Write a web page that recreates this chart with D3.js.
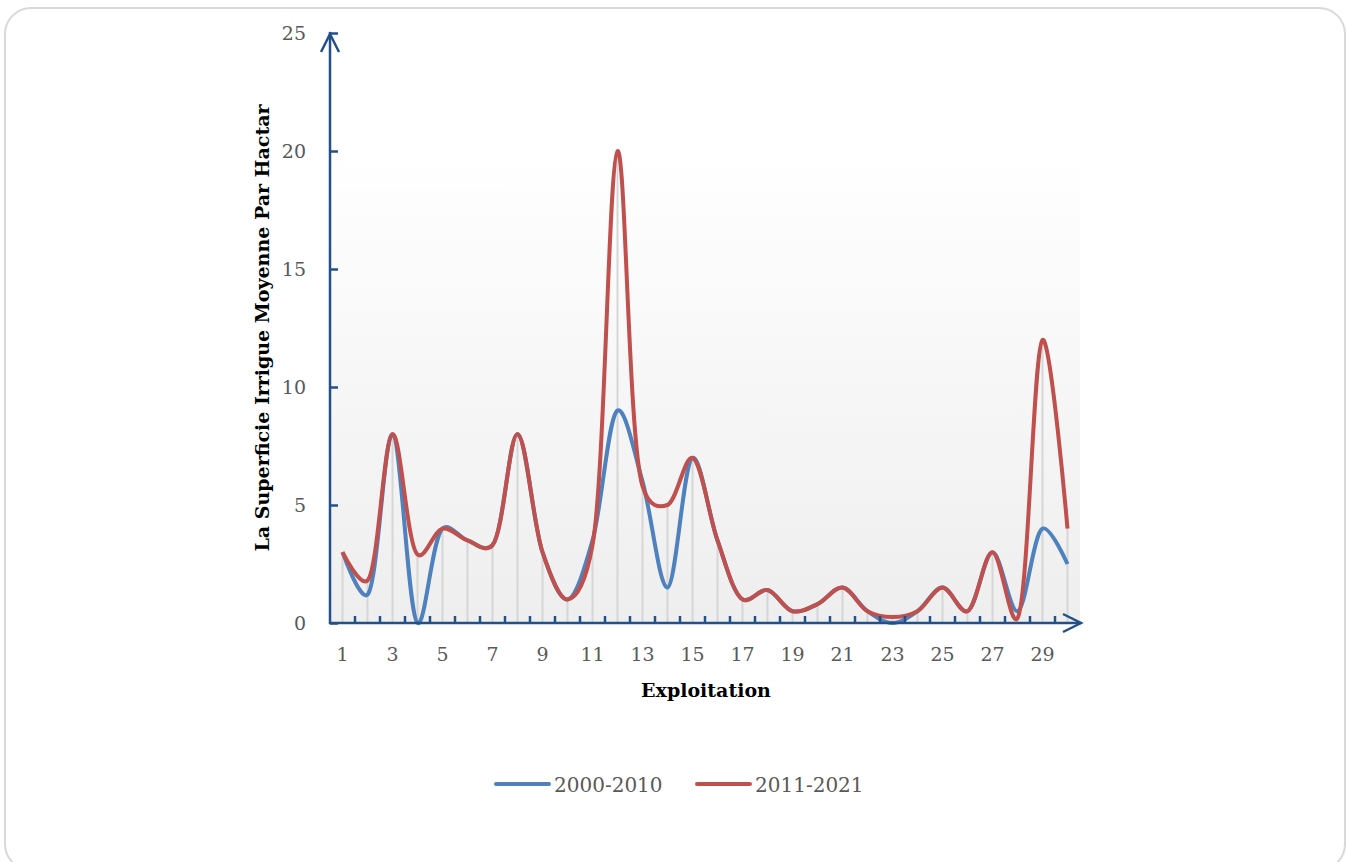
<!DOCTYPE html>
<html>
<head>
<meta charset="utf-8">
<script src="https://cdn.jsdelivr.net/npm/d3@7"></script>
<style>
  body { margin: 0; background: #fff; }
  text { font-family: "DejaVu Serif", serif; }
</style>
</head>
<body>
<svg id="chart" width="1346" height="862"></svg>
<script>
// exploitations 1..30
const exploitations = d3.range(1, 31);
const serie2000 = [3, 1.2, 8, 0, 4, 3.5, 3.3, 8, 3, 1, 3.5, 9, 6, 1.5, 7, 3.5, 1, 1.4, 0.5, 0.8, 1.5, 0.5, 0, 0.5, 1.5, 0.5, 3, 0.5, 4, 2.5];
const serie2011 = [3, 1.8, 8, 2.9, 4, 3.5, 3.3, 8, 3, 1, 3.3, 20, 5.8, 5, 7, 3.5, 1, 1.4, 0.5, 0.8, 1.5, 0.5, 0.25, 0.5, 1.5, 0.5, 3, 0.2, 12, 4];
const yTicks = [0, 5, 10, 15, 20, 25];
const seriesNames = ["2000-2010", "2011-2021"];
const colors = ["#4f81bd", "#c0504d"];

const svg = d3.select("#chart");
const axisColor = "#24508a";

// cadre arrondi
svg.append("rect")
  .attr("x", 5).attr("y", 8)
  .attr("width", 1340).attr("height", 862)
  .attr("rx", 26)
  .attr("fill", "#fff")
  .attr("stroke", "#d9d9d9")
  .attr("stroke-width", 2);

const x = d3.scaleBand().domain(exploitations).range([330, 1080]);
const y = d3.scaleLinear().domain([0, 25]).range([623, 33]);
const cx = d => x(d) + x.bandwidth() / 2;

// fond dégradé
const grad = svg.append("defs").append("linearGradient")
  .attr("id", "bg").attr("x1", 0).attr("y1", 0).attr("x2", 0).attr("y2", 1);
grad.append("stop").attr("offset", "0%").attr("stop-color", "#ffffff");
grad.append("stop").attr("offset", "20%").attr("stop-color", "#ffffff");
grad.append("stop").attr("offset", "100%").attr("stop-color", "#eeeeee");

svg.append("rect")
  .attr("x", 330).attr("y", y(25))
  .attr("width", 750).attr("height", y(0) - y(25))
  .attr("fill", "url(#bg)");

// lignes de projection
svg.append("g")
  .selectAll("line")
  .data(exploitations)
  .join("line")
  .attr("x1", d => cx(d)).attr("x2", d => cx(d))
  .attr("y1", (d, i) => y(Math.max(serie2000[i], serie2011[i])))
  .attr("y2", y(0))
  .attr("stroke", "#d6d6d6")
  .attr("stroke-width", 2);

// courbes lissées
const line = d3.line()
  .x(d => cx(d.e))
  .y(d => y(d.v))
  .curve(d3.curveCatmullRom.alpha(0.3));

[serie2000, serie2011].forEach((s, k) => {
  svg.append("path")
    .datum(exploitations.map((e, i) => ({ e, v: s[i] })))
    .attr("d", line)
    .attr("fill", "none")
    .attr("stroke", colors[k])
    .attr("stroke-width", 4)
    .attr("stroke-linejoin", "round");
});

// axe Y
const yAxis = svg.append("g").attr("transform", "translate(330,0)")
  .call(d3.axisRight(y).tickValues(yTicks).tickSize(8).tickFormat(""));
yAxis.select(".domain").remove();
yAxis.selectAll("line").attr("stroke", axisColor).attr("stroke-width", 2.5);

svg.append("line")
  .attr("x1", 330).attr("x2", 330).attr("y1", y(0) + 1).attr("y2", y(25) - 1)
  .attr("stroke", axisColor).attr("stroke-width", 2.5);
svg.append("path")
  .attr("d", `M321,${y(25) + 19}L330,${y(25) + 1}L339,${y(25) + 19}`)
  .attr("fill", "none").attr("stroke", axisColor).attr("stroke-width", 2.5);

svg.append("g")
  .selectAll("text")
  .data(yTicks)
  .join("text")
  .attr("x", 306).attr("y", d => y(d) + 7)
  .attr("text-anchor", "end")
  .attr("font-size", 19)
  .attr("fill", "#595959")
  .text(d => d);

// axe X
svg.append("line")
  .attr("x1", 329).attr("x2", 1081).attr("y1", y(0)).attr("y2", y(0))
  .attr("stroke", axisColor).attr("stroke-width", 2.5);
svg.append("path")
  .attr("d", `M1063,${y(0) - 9}L1081,${y(0)}L1063,${y(0) + 9}`)
  .attr("fill", "none").attr("stroke", axisColor).attr("stroke-width", 2.5);

svg.append("g")
  .selectAll("line")
  .data(exploitations.slice(1))
  .join("line")
  .attr("x1", d => x(d)).attr("x2", d => x(d))
  .attr("y1", y(0)).attr("y2", y(0) - 7)
  .attr("stroke", axisColor).attr("stroke-width", 2.5);

svg.append("g")
  .selectAll("text")
  .data(exploitations.filter(d => d % 2 === 1))
  .join("text")
  .attr("x", d => cx(d)).attr("y", 661)
  .attr("text-anchor", "middle")
  .attr("font-size", 19)
  .attr("fill", "#595959")
  .text(d => d);

// titres des axes
svg.append("text")
  .attr("x", 706).attr("y", 697)
  .attr("text-anchor", "middle")
  .attr("font-size", 19).attr("font-weight", "bold")
  .attr("fill", "#000")
  .text("Exploitation");

svg.append("text")
  .attr("transform", "translate(269,328) rotate(-90)")
  .attr("text-anchor", "middle")
  .attr("font-size", 19).attr("font-weight", "bold")
  .attr("fill", "#000")
  .attr("textLength", 447).attr("lengthAdjust", "spacingAndGlyphs")
  .text("La Superficie Irrigue Moyenne Par Hactar");

// légende
const legendX = [496, 697];
seriesNames.forEach((n, k) => {
  svg.append("line")
    .attr("x1", legendX[k]).attr("x2", legendX[k] + 53)
    .attr("y1", 784).attr("y2", 784)
    .attr("stroke", colors[k]).attr("stroke-width", 4)
    .attr("stroke-linecap", "round");
  svg.append("text")
    .attr("x", legendX[k] + 58).attr("y", 792)
    .attr("font-size", 20)
    .attr("fill", "#595959")
    .text(n);
});
</script>
</body>
</html>
